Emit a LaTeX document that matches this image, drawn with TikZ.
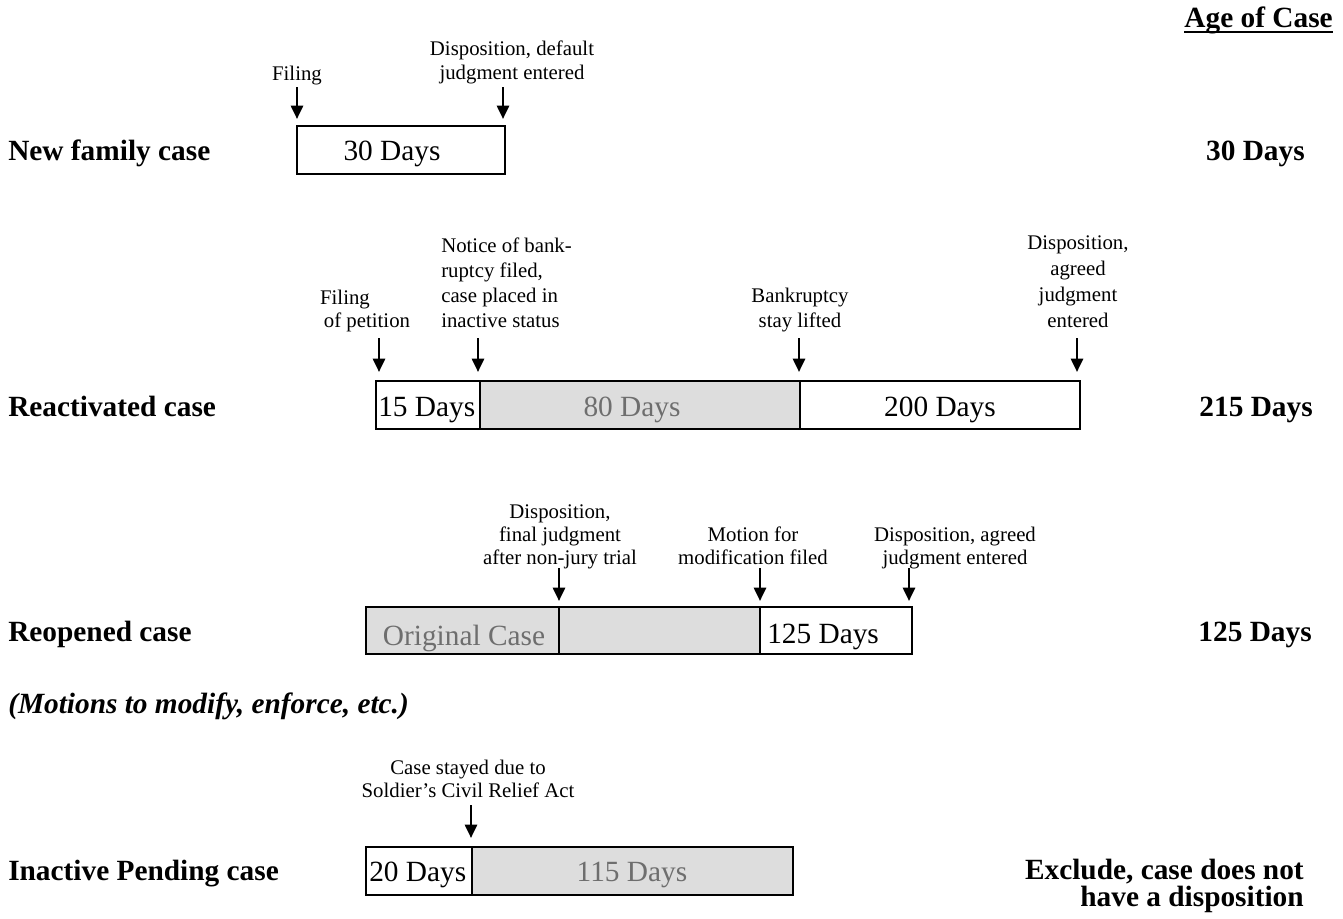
\documentclass[tikz,border=0pt]{standalone}
\usepackage{fontspec}
\setmainfont{Liberation Serif}
\usetikzlibrary{arrows.meta}
\definecolor{segfill}{HTML}{DDDDDD}
\definecolor{segtext}{HTML}{6E6E6E}
\begin{document}
\begin{tikzpicture}[x=0.75pt,y=-0.75pt,
  big/.style={font=\fontsize{22}{26}\selectfont, inner sep=0},
  bigb/.style={font=\bfseries\fontsize{22}{26}\selectfont, inner sep=0},
  anno/.style={font=\fontsize{15.6}{18}\selectfont, inner sep=0, anchor=base},
  seg/.style={draw, line width=1.5pt},
  gseg/.style={seg, fill=segfill},
  evt/.style={line width=2pt, -{Triangle[width=9pt,length=10pt]}},
  gtext/.style={big, text=segtext}]
\useasboundingbox (0,0) rectangle (1343,918);

% header
\node[bigb, anchor=base east] (age) at (1333,27) {Age of Case};
\draw[line width=1.6pt] ([yshift=-4pt]age.base west) -- ([yshift=-4pt]age.base east);

% ---------- Row 1: New family case
\node[bigb, anchor=base west] (l1) at (8,160) {New family case};
\node[bigb, anchor=base east] (r1) at (1305,160) {30 Days};
\draw[seg] (297,126) rectangle (505,174);
\node[big, anchor=base] (t1) at (392,160) {30 Days};
\node[anno] (a1) at (297,80) {Filing};
\node[anno] (a2a) at (512,55) {Disposition, default};
\node[anno] (a2b) at (512,79) {judgment entered};
\coordinate (p1s) at (297,87); \coordinate (p1e) at (297,119);
\coordinate (p2s) at (503,87); \coordinate (p2e) at (503,119);
\draw[evt] (p1s) -- (p1e);
\draw[evt] (p2s) -- (p2e);

% ---------- Row 2: Reactivated case
\node[bigb, anchor=base west] (l2) at (8,416) {Reactivated case};
\node[bigb, anchor=base east] (r2) at (1313,416) {215 Days};
\draw[seg] (376,381) rectangle (480,429);
\draw[gseg] (480,381) rectangle (800,429);
\draw[seg] (800,381) rectangle (1080,429);
\node[big, anchor=base west] (t2a) at (378,416) {15 Days};
\node[gtext, anchor=base] (t2b) at (632,416) {80 Days};
\node[big, anchor=base] (t2c) at (940,416) {200 Days};
\node[anno] (b1a) at (345,304) {Filing};
\node[anno] (b1b) at (367,327) {of petition};
\node[anno, anchor=base west] (b2a) at (441,252) {Notice of bank-};
\node[anno, anchor=base west] (b2b) at (441,277) {ruptcy filed,};
\node[anno, anchor=base west] (b2c) at (441,302) {case placed in};
\node[anno, anchor=base west] (b2d) at (441,327) {inactive status};
\node[anno] (b3a) at (800,302) {Bankruptcy};
\node[anno] (b3b) at (800,327) {stay lifted};
\node[anno] (b4a) at (1078,249) {Disposition,};
\node[anno] (b4b) at (1078,275) {agreed};
\node[anno] (b4c) at (1078,301) {judgment};
\node[anno] (b4d) at (1078,327) {entered};
\coordinate (q1s) at (379,338); \coordinate (q1e) at (379,372);
\coordinate (q2s) at (478,338); \coordinate (q2e) at (478,372);
\coordinate (q3s) at (799,338); \coordinate (q3e) at (799,372);
\coordinate (q4s) at (1077,338); \coordinate (q4e) at (1077,372);
\draw[evt] (q1s) -- (q1e);
\draw[evt] (q2s) -- (q2e);
\draw[evt] (q3s) -- (q3e);
\draw[evt] (q4s) -- (q4e);

% ---------- Row 3: Reopened case
\node[bigb, anchor=base west] (l3) at (8,641) {Reopened case};
\node[bigb, anchor=base east] (r3) at (1312,641) {125 Days};
\node[font=\bfseries\itshape\fontsize{22}{26}\selectfont, inner sep=0, anchor=base west] (l3b) at (8,713) {(Motions to modify, enforce, etc.)};
\draw[gseg] (366,607) rectangle (559,654);
\draw[gseg] (559,607) rectangle (760,654);
\draw[seg] (760,607) rectangle (912,654);
\node[gtext, anchor=base] (t3a) at (464,645) {Original Case};
\node[big, anchor=base west] (t3b) at (767,643) {125 Days};
\node[anno] (c1a) at (560,518) {Disposition,};
\node[anno] (c1b) at (560,541) {final judgment};
\node[anno] (c1c) at (560,564) {after non-jury trial};
\node[anno] (c2a) at (753,541) {Motion for};
\node[anno] (c2b) at (753,564) {modification filed};
\node[anno] (c3a) at (955,541) {Disposition, agreed};
\node[anno] (c3b) at (955,564) {judgment entered};
\coordinate (s1s) at (559,568); \coordinate (s1e) at (559,601);
\coordinate (s2s) at (760,568); \coordinate (s2e) at (760,601);
\coordinate (s3s) at (909,568); \coordinate (s3e) at (909,601);
\draw[evt] (s1s) -- (s1e);
\draw[evt] (s2s) -- (s2e);
\draw[evt] (s3s) -- (s3e);

% ---------- Row 4: Inactive Pending case
\node[bigb, anchor=base west] (l4) at (8,880) {Inactive Pending case};
\node[font=\bfseries\fontsize{22}{20}\selectfont, inner sep=0, align=right, anchor=south east] (r4) at (1304,913) {Exclude, case does not\\have a disposition};
\draw[seg] (366,847) rectangle (472,895);
\draw[gseg] (472,847) rectangle (793,895);
\node[big, anchor=base west] (t4a) at (369,881) {20 Days};
\node[gtext, anchor=base] (t4b) at (632,881) {115 Days};
\node[anno] (d1a) at (468,774) {Case stayed due to};
\node[anno] (d1b) at (468,797) {Soldier’s Civil Relief Act};
\coordinate (u1s) at (471,805); \coordinate (u1e) at (471,838);
\draw[evt] (u1s) -- (u1e);
\end{tikzpicture}
\end{document}
